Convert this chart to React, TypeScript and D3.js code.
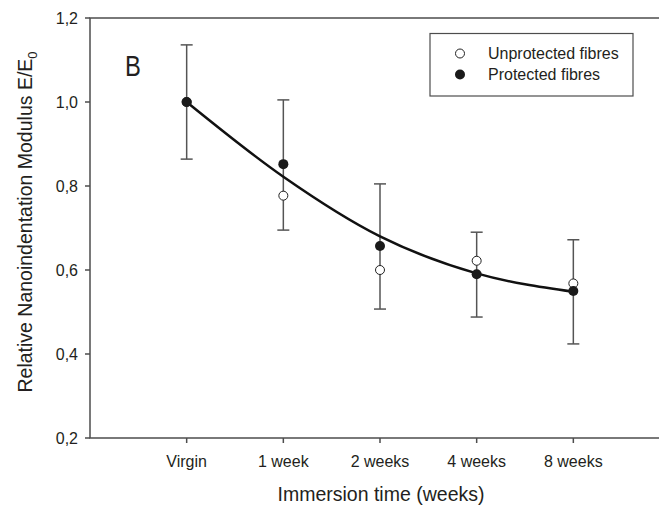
import React from "react";
import * as d3 from "d3";

const categories = ["Virgin", "1 week", "2 weeks", "4 weeks", "8 weeks"];
const unprotected = [1.0, 0.777, 0.6, 0.622, 0.568];
const protectedVals = [1.0, 0.852, 0.657, 0.59, 0.55];
const errLow = [0.864, 0.695, 0.507, 0.488, 0.424];
const errHigh = [1.136, 1.005, 0.805, 0.69, 0.672];
const fitCurve = [1.0, 0.822, 0.68, 0.592, 0.548];
const yTicks = [0.2, 0.4, 0.6, 0.8, 1.0, 1.2];

const W = 659;
const H = 509;
const M = { left: 90, top: 18, right: 670, bottom: 438 };
const FONT = "'Liberation Sans', Arial, Helvetica, sans-serif";
const TEXT = "#231f20";
const AXIS = "#4d4d4d";

export default function App() {
  const x = d3.scaleLinear().domain([-1, 5]).range([M.left, M.right]);
  const y = d3.scaleLinear().domain([0.2, 1.2]).range([M.bottom, M.top]);
  const line = d3
    .line<number>()
    .x((_, i) => x(i))
    .y((d) => y(d))
    .curve(d3.curveMonotoneX);

  return (
    <svg
      width={W}
      height={H}
      style={{ position: "absolute", left: 0, top: 0, background: "#fff" }}
      fontFamily={FONT}
    >
      <rect
        x={M.left}
        y={M.top}
        width={M.right - M.left}
        height={M.bottom - M.top}
        fill="none"
        stroke={AXIS}
        strokeWidth={1.5}
      />
      {yTicks.map((t) => (
        <g key={t}>
          <line x1={M.left - 5} x2={M.left} y1={y(t)} y2={y(t)} stroke={AXIS} strokeWidth={1.5} />
          <text x={M.left - 12} y={y(t) + 5.5} textAnchor="end" fontSize={16} fill={TEXT}>
            {t.toFixed(1).replace(".", ",")}
          </text>
        </g>
      ))}
      {categories.map((c, i) => (
        <g key={c}>
          <line x1={x(i)} x2={x(i)} y1={M.bottom} y2={M.bottom + 5} stroke={AXIS} strokeWidth={1.5} />
          <text x={x(i)} y={467} textAnchor="middle" fontSize={16} fill={TEXT}>
            {c}
          </text>
        </g>
      ))}
      <text x={381} y={501} textAnchor="middle" fontSize={19.5} fill={TEXT}>
        Immersion time (weeks)
      </text>
      <text
        transform={`translate(32, ${(M.top + M.bottom) / 2 - 6}) rotate(-90)`}
        textAnchor="middle"
        fontSize={19.5}
        fill={TEXT}
      >
        Relative Nanoindentation Modulus E/E
        <tspan fontSize={13} dy={5}>0</tspan>
      </text>
      <text x={125} y={76} fontSize={29} fill={TEXT} transform="translate(125,0) scale(0.82,1) translate(-125,0)">
        B
      </text>
      {categories.map((c, i) => (
        <g key={"e" + c} stroke="#555" strokeWidth={1.5}>
          <line x1={x(i)} x2={x(i)} y1={y(errLow[i])} y2={y(errHigh[i])} />
          <line x1={x(i) - 6} x2={x(i) + 6} y1={y(errLow[i])} y2={y(errLow[i])} />
          <line x1={x(i) - 6} x2={x(i) + 6} y1={y(errHigh[i])} y2={y(errHigh[i])} />
        </g>
      ))}
      <path d={line(fitCurve) || ""} fill="none" stroke="#111" strokeWidth={2.5} />
      {unprotected.map((v, i) => (
        <circle key={"u" + i} cx={x(i)} cy={y(v)} r={4.5} fill="#fff" stroke="#222" strokeWidth={1} />
      ))}
      {protectedVals.map((v, i) => (
        <circle key={"p" + i} cx={x(i)} cy={y(v)} r={5} fill="#1a1a1a" />
      ))}
      <rect x={430} y={33.5} width={203} height={62.5} fill="#fff" stroke={AXIS} strokeWidth={1.2} />
      <circle cx={460} cy={53.5} r={4.5} fill="#fff" stroke="#222" strokeWidth={1} />
      <circle cx={460} cy={74.5} r={5} fill="#1a1a1a" />
      <text x={488} y={59} fontSize={16} fill={TEXT}>
        Unprotected fibres
      </text>
      <text x={488} y={80} fontSize={16} fill={TEXT}>
        Protected fibres
      </text>
    </svg>
  );
}
